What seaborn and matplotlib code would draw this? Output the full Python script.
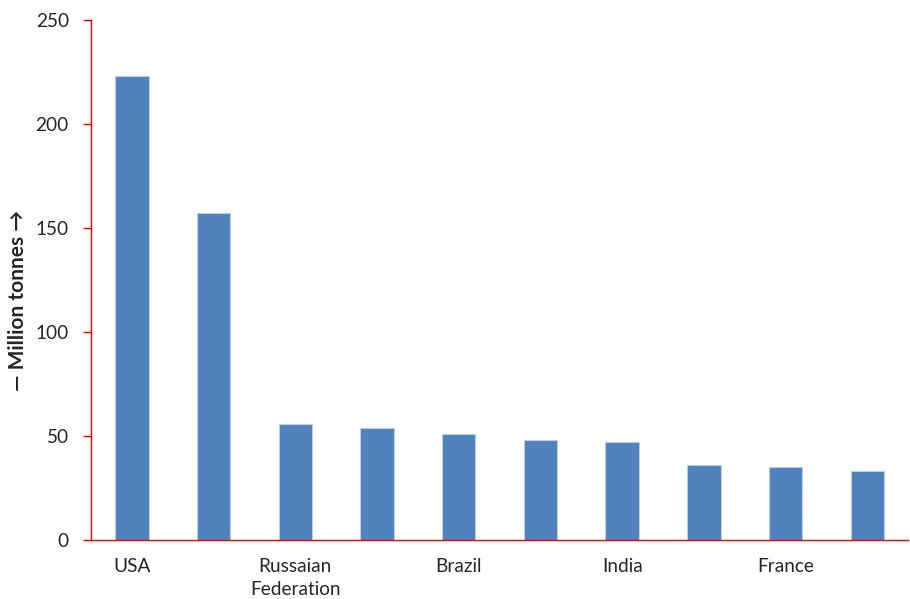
import matplotlib
matplotlib.use("Agg")
import matplotlib.pyplot as plt
import seaborn as sns
import pandas as pd

# Data
categories = ["USA", "C2", "Russaian Federation", "C4", "Brazil", "C6", "India", "C8", "France", "C10"]
values = [223, 157, 56, 54, 51, 48, 47, 36, 35, 33]
tick_labels = ["USA", "", "Russaian\nFederation", "", "Brazil", "", "India", "", "France", ""]
y_ticks = [0, 50, 100, 150, 200, 250]
y_label = "\u2014 Million tonnes \u2192"

sns.set_theme(style="white")
plt.rcParams['font.family'] = ['Lato', 'DejaVu Sans']

df = pd.DataFrame({"cat": categories, "val": values})

fig = plt.figure(figsize=(9.10, 5.99), dpi=100)
ax = fig.add_axes([0.1, 0.0985, 0.898, 0.868])

sns.barplot(data=df, x="cat", y="val", order=categories, color="#4F81BD",
            width=0.41, edgecolor="#B9CDE5", linewidth=0.8, saturation=1, ax=ax)

ax.set_xlim(-0.5, len(categories) - 0.5)
ax.set_ylim(0, 250)
ax.set_yticks(y_ticks)
ax.set_yticklabels([str(t) for t in y_ticks], fontsize=13.7)

ax.set_xticks(range(len(categories)))
ax.set_xticklabels(tick_labels, fontsize=13.7, va="top", linespacing=1.4)
ax.tick_params(axis="x", length=0, pad=13)
# boundary tick marks (Excel style)
ax.set_xticks([i - 0.5 for i in range(len(categories) + 1)], minor=True)
ax.tick_params(axis="x", which="minor", length=5, color="red", width=1, direction="out")
ax.tick_params(axis="y", length=6, color="red", width=1, direction="out", pad=10, left=True)

for s in ["top", "right"]:
    ax.spines[s].set_visible(False)
for s in ["left", "bottom"]:
    ax.spines[s].set_color("red")
    ax.spines[s].set_linewidth(1)

ax.set_xlabel("")
ax.set_ylabel(y_label, fontsize=15, fontweight="bold", va="center")
ax.yaxis.set_label_coords(-0.089, 0.46)

fig.savefig("out.png", dpi=100)
